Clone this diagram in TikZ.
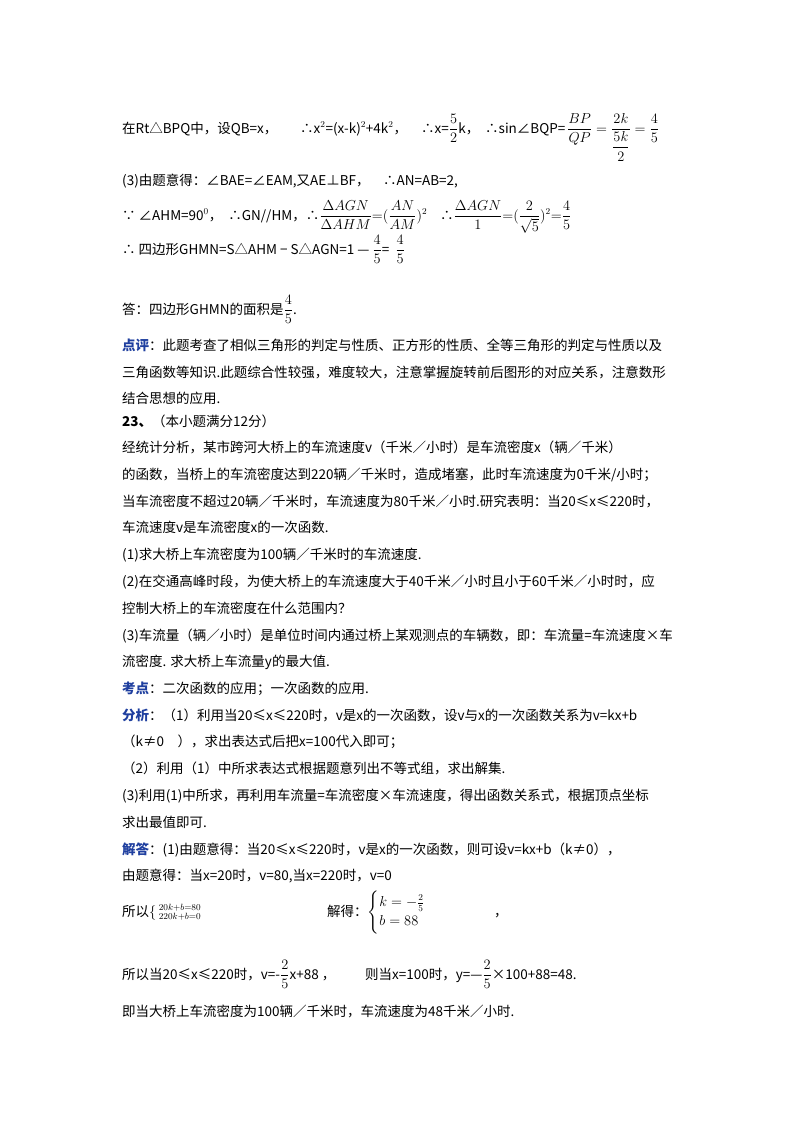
\documentclass[tikz,border=0pt]{standalone}
\usepackage{amsmath}
\usepackage{fontspec}
\setmainfont{Noto Sans CJK SC}
\XeTeXlinebreaklocale "zh"
\XeTeXlinebreakskip=0pt plus 2pt
\definecolor{kblue}{HTML}{1F3F9F}
\newcommand{\fl}[1]{\makebox[558pt][s]{#1}}
\newcommand{\kw}[1]{{\color{kblue}\bfseries #1}}
\begin{document}
\begin{tikzpicture}[x=1pt,y=-1pt,
  t/.style={anchor=base west,inner sep=0pt,font=\fontsize{13.5}{16}\selectfont}]
\useasboundingbox[fill=white] (0,0) rectangle (800,1132);
\node[t] (l1a) at (122,133) {在Rt△BPQ中，设QB=x，};
\node[t] (l1b) at (300,133) {∴x$^2$=(x-k)$^2$+4k$^2$，};
\node[t] (l1c) at (421,133) {∴x=$\dfrac{5}{2}$k，};
\node[t] (l1e) at (485,133) {∴sin∠BQP=};
\node[t] (l1d) at (567,133) {$\dfrac{BP}{QP}=\dfrac{2k}{\dfrac{5k}{2}}=\dfrac{4}{5}$};
\node[t] (l2) at (122,185) {(3)由题意得：∠BAE=∠EAM,又AE⊥BF，\quad ∴AN=AB=2,};
\node[t] (l3a) at (122,220) {∵ ∠AHM=90$^0$，\ \ ∴GN//HM，∴$\dfrac{\Delta AGN}{\Delta AHM}{=}(\dfrac{AN}{AM})^2$};
\node[t] (l3b) at (440,220) {∴$\dfrac{\Delta AGN}{1}{=}(\dfrac{2}{\sqrt5})^2{=}\dfrac{4}{5}$};
\node[t] (l4) at (122,254) {∴ 四边形GHMN=S△AHM − S△AGN=1 — $\dfrac{4}{5}$= \ $\dfrac{4}{5}$};
\node[t] (l5) at (122,314) {答：四边形GHMN的面积是$\dfrac{4}{5}$.};
\node[t] (p1) at (122,350) {\fl{\kw{点评}：此题考查了相似三角形的判定与性质、正方形的性质、全等三角形的判定与性质以及}};
\node[t] (p2) at (122,377) {\fl{三角函数等知识.此题综合性较强，难度较大，注意掌握旋转前后图形的对应关系，注意数形}};
\node[t] (p3) at (122,403) {结合思想的应用.};
\node[t] (q0) at (122,426) {\textbf{23、}（本小题满分12分）};
\node[t] (q1) at (122,452) {\makebox[520pt][s]{经统计分析，某市跨河大桥上的车流速度v（千米／小时）是车流密度x（辆／千米）}};
\node[t] (q2) at (122,479) {\fl{的函数，当桥上的车流密度达到220辆／千米时，造成堵塞，此时车流速度为0千米/小时；}};
\node[t] (q3) at (122,506) {\fl{当车流密度不超过20辆／千米时，车流速度为80千米／小时.研究表明：当20≤x≤220时，}};
\node[t] (q4) at (122,532) {车流速度v是车流密度x的一次函数.};
\node[t] (q5) at (122,559) {(1)求大桥上车流密度为100辆／千米时的车流速度.};
\node[t] (q6) at (122,586) {\fl{(2)在交通高峰时段，为使大桥上的车流速度大于40千米／小时且小于60千米／小时时，应}};
\node[t] (q7) at (122,613) {控制大桥上的车流密度在什么范围内？};
\node[t] (q8) at (122,640) {\fl{(3)车流量（辆／小时）是单位时间内通过桥上某观测点的车辆数，即：车流量=车流速度×车}};
\node[t] (q9) at (122,666) {流密度. 求大桥上车流量y的最大值.};
\node[t] (k1) at (122,693) {\kw{考点}：二次函数的应用；一次函数的应用.};
\node[t] (a1) at (122,720) {\makebox[554pt][s]{\kw{分析}：（1）利用当20≤x≤220时，v是x的一次函数，设v与x的一次函数关系为v=kx+b}};
\node[t] (a2) at (122,746) {（k≠0　），求出表达式后把x=100代入即可；};
\node[t] (a3) at (122,773) {（2）利用（1）中所求表达式根据题意列出不等式组，求出解集.};
\node[t] (a4) at (122,800) {\fl{(3)利用(1)中所求，再利用车流量=车流密度×车流速度，得出函数关系式，根据顶点坐标}};
\node[t] (a5) at (122,827) {求出最值即可.};
\node[t] (s1) at (122,854) {\kw{解答}：(1)由题意得：当20≤x≤220时，v是x的一次函数，则可设v=kx+b（k≠0），};
\node[t] (s2) at (122,880) {由题意得：当x=20时，v=80,当x=220时，v=0};
\node[t] (s3) at (122,916) {所以$\left\{\begin{smallmatrix}20k+b=80\\220k+b=0\end{smallmatrix}\right.$};
\node[t] (s4) at (327,916) {解得：$\begin{cases}k=-\frac{2}{5}\\ b=88\end{cases}$};
\node[t] (s5) at (494,916) {，};
\node[t] (s6) at (122,979) {所以当20≤x≤220时，v=-$\dfrac{2}{5}$x+88 ，};
\node[t] (s7) at (365,979) {则当x=100时，y=—$\dfrac{2}{5}$×100+88=48.};
\node[t] (s8) at (122,1016) {即当大桥上车流密度为100辆／千米时，车流速度为48千米／小时.};
\end{tikzpicture}
\end{document}
